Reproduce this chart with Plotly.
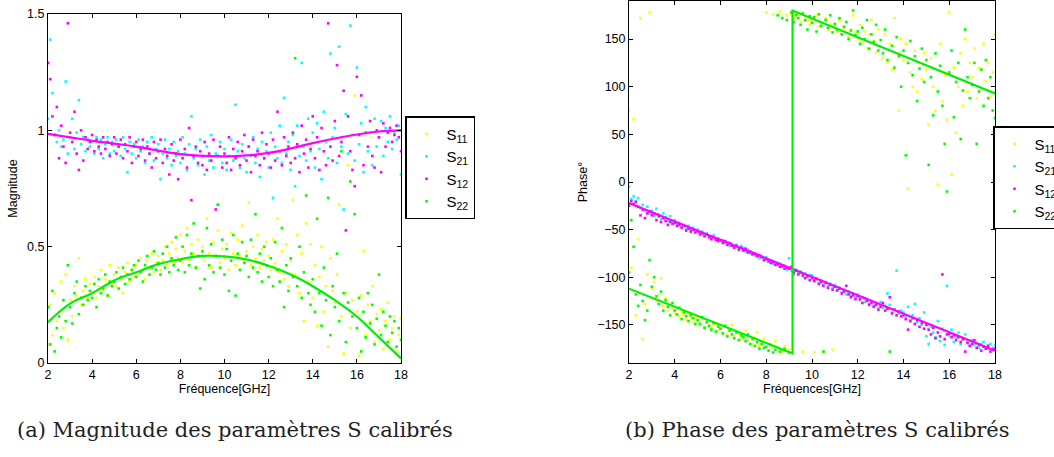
import numpy as np
import plotly.graph_objects as go

# frequency grid (GHz) for measured points
freq = np.round(np.linspace(2.0, 18.0, 161), 2)

# ---------------- Magnitude (measured) ----------------
mag_s11 = [
    0.08, 0.25, 0.12, 0.30, 0.18, 0.22, 0.35, 0.15, 0.38, 0.10,
    0.27, 0.20, 0.33, 0.29, 0.45, 0.25, 0.31, 0.36, 0.28, 0.34,
    0.30, 0.37, 0.28, 0.33, 0.40, 0.31, 0.36, 0.29, 0.42, 0.34,
    0.38, 0.33, 0.41, 0.36, 0.30, 0.39, 0.43, 0.35, 0.40, 0.37,
    0.42, 0.38, 0.45, 0.40, 0.36, 0.44, 0.41, 0.47, 0.39, 0.43,
    0.46, 0.40, 0.44, 0.50, 0.42, 0.47, 0.52, 0.43, 0.49, 0.45,
    0.55, 0.43, 0.48, 0.58, 0.44, 0.51, 0.47, 0.41, 0.53, 0.46,
    0.50, 0.44, 0.62, 0.47, 0.41, 0.52, 0.46, 0.57, 0.43, 0.49,
    0.45, 0.51, 0.40, 0.56, 0.47, 0.42, 0.53, 0.46, 0.59, 0.44,
    0.48, 0.69, 0.42, 0.50, 0.45, 0.55, 0.41, 0.49, 0.44, 0.52,
    0.46, 0.40, 0.53, 0.43, 0.62, 0.39, 0.48, 0.36, 0.51, 0.33,
    0.44, 0.70, 0.38, 0.55, 0.30, 0.47, 0.18, 0.60, 0.35, 0.51,
    0.28, 0.42, 0.16, 0.37, 0.50, 0.22, 0.33, 0.07, 0.45, 0.31,
    0.26, 0.38, 0.68, 0.20, 0.04, 0.30, 0.85, 0.15, 0.27, 1.15,
    0.22, 0.03, 0.29, 0.48, 0.12, 0.25, 0.18, 0.33, 0.09, 0.21,
    0.14, 0.23, 0.06, 0.18, 0.26, 0.10, 0.15, 0.20, 0.05, 0.12,
    0.19,
]
mag_s21 = [
    1.05, 1.39, 1.16, 0.98, 0.95, 1.00, 0.93, 0.96, 1.21, 0.90,
    0.97, 1.05, 0.92, 0.99, 1.13, 0.94, 0.97, 0.91, 0.96, 0.93,
    0.95, 0.90, 0.97, 0.92, 0.96, 0.88, 0.94, 0.97, 0.90, 0.95,
    0.91, 0.96, 0.93, 0.89, 0.97, 0.92, 0.82, 0.95, 0.90, 0.94,
    0.88, 0.96, 0.91, 0.93, 0.86, 0.95, 0.90, 0.97, 0.87, 0.92,
    0.94, 0.79, 0.90, 0.96, 0.88, 0.92, 0.85, 0.95, 0.89, 0.91,
    0.86, 0.97, 0.90, 0.83, 0.94, 1.06, 0.88, 0.92, 0.85, 0.96,
    0.89, 0.81, 0.93, 0.87, 0.98, 0.84, 0.90, 0.68, 0.95, 0.86,
    0.92, 0.83, 0.89, 0.96, 0.87, 1.11, 0.91, 0.84, 0.94, 0.88,
    0.82, 0.93, 0.89, 0.97, 0.86, 0.92, 0.80, 0.95, 0.88, 0.91,
    0.84, 0.99, 0.71, 0.93, 0.88, 1.02, 0.86, 1.14, 0.90, 0.95,
    0.83, 0.98, 0.76, 1.02, 0.89, 1.29, 0.93, 0.87, 1.05, 0.91,
    0.99, 0.84, 1.03, 0.92, 0.79, 1.08, 0.95, 0.88, 1.33, 0.97,
    1.01, 0.86, 1.36, 0.93, 0.66, 1.07, 0.90, 1.45, 0.98, 0.87,
    1.27, 0.94, 1.03, 0.82, 1.10, 0.91, 0.99, 0.85, 1.05, 0.93,
    0.97, 1.04, 0.89, 1.01, 0.95, 1.06, 0.92, 0.99, 0.96, 1.02,
    0.81,
]
mag_s12 = [
    1.29, 1.22, 1.06, 0.98, 1.10, 0.88, 1.02, 0.93, 0.86, 1.46,
    0.99, 0.95, 1.08, 0.90, 0.83, 1.00, 0.87, 0.97, 0.92, 0.95,
    0.98, 0.91, 0.96, 0.93, 0.90, 0.97, 0.92, 0.95, 0.89, 0.94,
    0.97, 0.90, 0.93, 0.96, 0.88, 0.94, 0.91, 0.97, 0.86, 0.93,
    0.95, 0.89, 0.92, 0.96, 0.87, 0.93, 0.90, 0.84, 0.95, 0.88,
    0.91, 0.96, 0.86, 0.92, 0.89, 0.81, 0.94, 0.87, 0.90, 0.79,
    0.96, 0.88, 0.92, 0.84, 1.01, 0.70, 0.89, 0.93, 0.86, 0.91,
    0.85, 0.95, 0.83, 0.90, 0.87, 0.96, 0.66, 0.89, 0.93, 0.84,
    0.90, 0.86, 0.97, 0.83, 0.92, 0.88, 0.95, 0.85, 0.91, 0.98,
    0.87, 0.93, 0.82, 0.96, 0.89, 0.91, 0.85, 0.99, 0.88, 0.94,
    0.90, 0.84, 0.96, 0.87, 1.08, 0.91, 0.85, 0.97, 0.89, 0.93,
    0.86, 0.99, 0.88, 0.94, 0.82, 1.02, 0.90, 0.96, 0.84, 0.92,
    1.06, 0.88, 0.97, 0.83, 1.01, 0.91, 0.85, 1.46, 0.93, 0.87,
    1.04, 1.28, 0.89, 0.95, 1.17, 0.57, 1.06, 0.91, 0.83, 0.76,
    1.23, 0.98, 1.15, 0.85, 0.99, 0.93, 1.04, 0.89, 0.84, 1.00,
    0.97, 0.82, 1.03, 0.93, 0.99, 1.01, 0.95, 0.98, 1.02, 0.97,
    0.91,
]
mag_s22 = [
    0.24, 0.08, 0.31, 0.05, 0.15, 0.20, 0.11, 0.27, 0.18, 0.42,
    0.24, 0.17, 0.30, 0.35, 0.21, 0.28, 0.25, 0.33, 0.27, 0.31,
    0.28, 0.34, 0.24, 0.36, 0.30, 0.32, 0.38, 0.29, 0.35, 0.33,
    0.35, 0.39, 0.32, 0.37, 0.41, 0.34, 0.38, 0.36, 0.40, 0.42,
    0.37, 0.44, 0.39, 0.35, 0.42, 0.46, 0.38, 0.41, 0.48, 0.40,
    0.43, 0.38, 0.47, 0.41, 0.50, 0.39, 0.45, 0.42, 0.54, 0.40,
    0.44, 0.50, 0.39, 0.55, 0.42, 0.47, 0.60, 0.41, 0.46, 0.32,
    0.48, 0.36, 0.58, 0.42, 0.51, 0.39, 0.46, 0.68, 0.41, 0.53,
    0.38, 0.49, 0.31, 0.44, 0.55, 0.29, 0.47, 0.40, 0.52, 0.43,
    0.46, 0.37, 0.53, 0.41, 0.64, 0.39, 0.47, 0.35, 0.50, 0.42,
    0.37, 0.45, 0.33, 0.52, 0.40, 0.35, 0.58, 0.24, 0.42, 0.31,
    0.45, 0.37, 1.31, 0.33, 0.50, 0.28, 0.39, 0.72, 0.30, 0.25,
    0.36, 0.22, 0.62, 0.30, 0.16, 0.41, 0.27, 0.71, 0.12, 0.33,
    0.24, 0.47, 0.18, 0.91, 0.30, 0.09, 0.26, 0.78, 0.20, 0.64,
    0.15, 0.28, 0.05, 0.22, 0.11, 0.30, 0.17, 0.25, 0.08, 0.19,
    0.38, 0.12, 0.22, 0.16, 0.09, 0.20, 0.13, 0.18, 0.07, 0.15,
    0.10,
]

# fitted magnitude curves
fit_freq = [2, 3, 4, 5, 6, 7, 8, 9, 10, 11, 12, 13, 14, 15, 16, 17, 18]
fit_mag_trans = [0.985, 0.97, 0.955, 0.943, 0.93, 0.913, 0.898, 0.89, 0.888,
                 0.892, 0.903, 0.922, 0.945, 0.965, 0.982, 0.995, 1.0]
fit_mag_refl = [0.175, 0.255, 0.30, 0.355, 0.39, 0.425, 0.446, 0.46, 0.458,
                0.445, 0.418, 0.38, 0.33, 0.27, 0.20, 0.11, 0.02]

# ---------------- Phase (measured) ----------------
ph_s11 = [
    75, -90, 66, -140, -60, 172, -165, -128, -97, 178,
    -112, -105, -125, -118, -101, -130, -122, -135, -128, -133,
    -138, -133, -141, -136, -140, -145, -139, -143, -147, -142,
    -146, -150, -144, -152, -148, -146, -154, -150, -149, -156,
    -153, -158, -151, -160, -155, -150, -162, -157, -159, -165,
    -160, -156, -166, -162, -170, -163, -158, -172, -167, -164,
    178, -170, -175, 176, -167, -174, 179, -178, -172, 175,
    -176, 177, 172, 178, 175, 168, -178, 174, 170, 165,
    170, -179, 175, 163, 168, -178, 172, 160, 166, -176,
    164, 158, 170, 155, 162, 167, 152, 160, 175, 157,
    150, 165, 146, 158, 140, 155, 170, 148, 136, 160,
    142, 130, 155, 125, 145, 118, 172, 135, 75, 150,
    128, 145, -7, 115, 100, 138, 95, 125, 108, 135,
    118, 60, 130, 100, 75, -3, 145, 85, 112, 65,
    178, 8, 120, 52, 100, 135, 80, 150, 95, 125,
    110, 140, 88, 120, 98, 145, 106, 125, 90, 115,
    155,
]
ph_s21 = [
    -5, -18, -15, -20, -17, -27, -24, -30, -26, -33,
    -30, -36, -28, -34, -39, -33, -37, -41, -36, -43,
    -40, -44, -43, -47, -45, -49, -46, -50, -48, -51,
    -50, -53, -52, -56, -54, -57, -58, -56, -60, -59,
    -62, -61, -64, -63, -67, -65, -68, -66, -70, -67,
    -69, -73, -71, -75, -74, -77, -76, -80, -78, -81,
    -79, -84, -82, -86, -84, -87, -86, -89, -88, -92,
    -80, -93, -97, -92, -96, -94, -99, -96, -100, -98,
    -98, -103, -101, -106, -103, -108, -105, -109, -107, -111,
    -108, -113, -111, -116, -113, -118, -115, -119, -117, -121,
    -118, -124, -121, -126, -123, -128, -125, -130, -127, -133,
    -126, -132, -130, -117, -129, -137, -134, -93, -138, -135,
    -137, -142, -131, -145, -140, -128, -147, -143, -150, -137,
    -162, -170, -152, -158, -163, -146, -167, -154, -171, -109,
    -161, -155, -168, -163, -158, -170, -165, -160, -167, -172,
    -166, -171, -169, -174, -170, -168, -175, -172, -170, -174,
    -171,
]
ph_s12 = [
    -25, -20, -23, -21, -26, -35, -29, -38, -33, -31,
    -35, -33, -40, -36, -42, -38, -41, -45, -42, -44,
    -43, -46, -45, -48, -46, -51, -49, -52, -50, -53,
    -52, -55, -54, -57, -55, -58, -60, -58, -61, -62,
    -61, -64, -62, -66, -64, -67, -69, -67, -71, -69,
    -72, -70, -74, -73, -76, -75, -78, -77, -79, -82,
    -81, -83, -85, -84, -87, -86, -89, -88, -91, -90,
    -91, -89, -95, -93, -97, -95, -98, -101, -99, -103,
    -101, -104, -102, -107, -105, -109, -106, -111, -108, -113,
    -110, -114, -112, -117, -115, -109, -118, -121, -119, -123,
    -120, -123, -127, -122, -125, -129, -127, -131, -129, -134,
    -131, -127, -135, -133, -121, -138, -134, -140, -136, -141,
    -140, -144, -155, -146, -143, -149, -145, -152, -148, -154,
    -150, -155, -160, -153, -164, -158, -162, -97, -165, -160,
    -159, -163, -161, -166, -163, -168, -165, -178, -169, -172,
    -170, -166, -174, -171, -177, -173, -175, -172, -178, -176,
    -175,
]
ph_s22 = [
    -95, -40, -68, -118, -130, -108, -125, -145, -135, -82,
    -110, -100, -120, -128, -115, -135, -124, -131, -140, -127,
    -135, -139, -132, -144, -137, -141, -146, -140, -143, -149,
    -145, -149, -142, -153, -147, -151, -155, -148, -157, -152,
    -154, -159, -151, -162, -156, -160, -164, -158, -166, -161,
    -163, -167, -160, -170, -165, -172, -168, -175, -170, -174,
    -173, -177, -171, -179, -176, 175, -178, 172, -175, 170,
    -179, 178, 168, 175, 172, 165, 177, 170, 160, 174,
    167, 173, 158, 176, 164, -178, 170, 162, 175, 157,
    166, 160, 172, 155, 163, 168, 150, 159, 180, 154,
    158, 145, 162, 150, 170, 140, 155, 147, 165, 138,
    149, 135, 160, 128, -178, 143, 120, 152, 132, 100,
    138, 28, 125, 148, 112, 132, 85, 119, 140, 105,
    128, 18, 110, 70, 135, 95, 122, 80, 40, -10,
    115, 138, 68, 105, 125, 45, 96, 160, 110, 88,
    102, 125, 40, 95, 118, 80, 128, 88, 110, 75,
    67,
]

# fitted phase lines
fit_ph_trans_freq = [2, 18]
fit_ph_trans = [-22, -177]
fit_ph_refl_freq = [2, 9.15, 9.15, 18]
fit_ph_refl = [-112, -180, 180, 93]

series_names = ["S<sub>11</sub>", "S<sub>21</sub>", "S<sub>12</sub>", "S<sub>22</sub>"]
series_colors = ["#FFFF00", "#00FFFF", "#FF00FF", "#00FF00"]

fig = go.Figure()

mag_data = [mag_s11, mag_s21, mag_s12, mag_s22]
ph_data = [ph_s11, ph_s21, ph_s12, ph_s22]

for name, col, ys in zip(series_names, series_colors, mag_data):
    fig.add_trace(go.Scatter(x=freq, y=ys, mode="markers", name=name,
                             marker=dict(color=col, size=2.6, symbol="square", line=dict(width=0)),
                             xaxis="x", yaxis="y", legend="legend"))
fig.add_trace(go.Scatter(x=fit_freq, y=fit_mag_trans, mode="lines", line=dict(color="#FF00FF", width=2.2, shape="spline"),
                         showlegend=False, xaxis="x", yaxis="y"))
fig.add_trace(go.Scatter(x=fit_freq, y=fit_mag_refl, mode="lines", line=dict(color="#00EE00", width=2.2, shape="spline"),
                         showlegend=False, xaxis="x", yaxis="y"))

for name, col, ys in zip(series_names, series_colors, ph_data):
    fig.add_trace(go.Scatter(x=freq, y=ys, mode="markers", name=name,
                             marker=dict(color=col, size=2.6, symbol="square", line=dict(width=0)),
                             xaxis="x2", yaxis="y2", legend="legend2"))
fig.add_trace(go.Scatter(x=fit_ph_trans_freq, y=fit_ph_trans, mode="lines", line=dict(color="#FF00FF", width=2.2),
                         showlegend=False, xaxis="x2", yaxis="y2"))
fig.add_trace(go.Scatter(x=fit_ph_refl_freq, y=fit_ph_refl, mode="lines", line=dict(color="#00EE00", width=2.2),
                         showlegend=False, xaxis="x2", yaxis="y2"))

tickfont = dict(family="Liberation Sans, Arial, sans-serif", size=12.5, color="black")
axcommon = dict(showgrid=False, zeroline=False, showline=True, linecolor="black", linewidth=1,
                mirror="ticks", ticks="inside", ticklen=4, tickcolor="black", tickfont=tickfont)

W, H = 1054, 457
fig.update_layout(
    width=W, height=H,
    margin=dict(l=0, r=0, t=0, b=0, autoexpand=False),
    paper_bgcolor="white", plot_bgcolor="white",
    font=dict(family="Liberation Sans, Arial, sans-serif", size=12.5, color="black"),
    xaxis=dict(domain=[48 / W, 401 / W], range=[2, 18], tickvals=[2, 4, 6, 8, 10, 12, 14, 16, 18],
               title=dict(text="Fréquence[GHz]", standoff=2, font=dict(size=12.5)), anchor="y", **axcommon),
    yaxis=dict(domain=[1 - 363 / H, 1 - 14 / H], range=[0, 1.5], tickvals=[0, 0.5, 1, 1.5],
               ticktext=["0", "0.5", "1", "1.5"],
               title=dict(text="Magnitude", standoff=6, font=dict(size=12.5)), anchor="x", **axcommon),
    xaxis2=dict(domain=[629 / W, 995 / W], range=[2, 18], tickvals=[2, 4, 6, 8, 10, 12, 14, 16, 18],
                title=dict(text="Fréquences[GHz]", standoff=2, font=dict(size=12.5)), anchor="y2", **axcommon),
    yaxis2=dict(domain=[1 - 363 / H, 1 - 1 / H], range=[-190, 190],
                tickvals=[-150, -100, -50, 0, 50, 100, 150],
                ticktext=["\u2212150", "\u2212100", "\u221250", "0", "50", "100", "150"],
                title=dict(text="Phase°", standoff=6, font=dict(size=12.5)), anchor="x2", **axcommon),
    legend=dict(x=405 / W, y=1 - 116 / H, xanchor="left", yanchor="top", bgcolor="white",
                bordercolor="black", borderwidth=1.5, font=dict(size=15), itemsizing="trace",
                tracegroupgap=0),
    legend2=dict(x=993 / W, y=1 - 126 / H, xanchor="left", yanchor="top", bgcolor="white",
                 bordercolor="black", borderwidth=1.5, font=dict(size=15), itemsizing="trace",
                 tracegroupgap=0),
    annotations=[
        dict(text="(a) Magnitude des paramètres S calibrés", x=15 / W, y=1 - 430 / H, xref="paper", yref="paper",
             xanchor="left", yanchor="middle", showarrow=False,
             font=dict(family="DejaVu Serif, serif", size=21, color="#222")),
        dict(text="(b) Phase des paramètres S calibrés", x=623 / W, y=1 - 430 / H, xref="paper", yref="paper",
             xanchor="left", yanchor="middle", showarrow=False,
             font=dict(family="DejaVu Serif, serif", size=21, color="#222")),
    ],
)

fig.write_html("out.html",
               config={"displayModeBar": False},
               post_script="document.body.style.margin='0px';document.body.style.overflow='hidden';")
